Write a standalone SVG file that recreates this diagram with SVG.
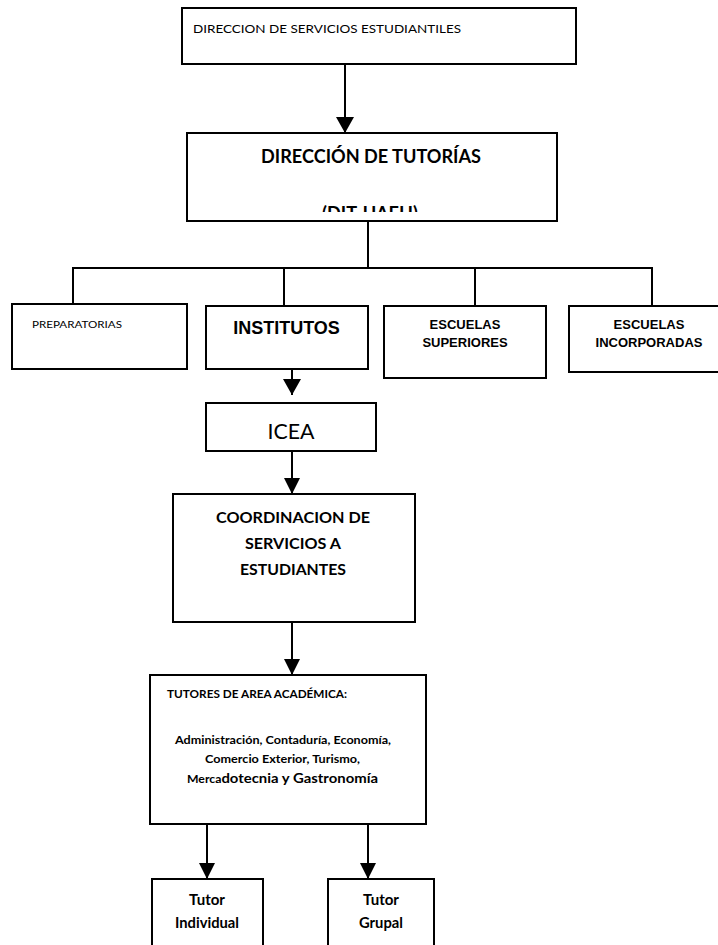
<svg xmlns="http://www.w3.org/2000/svg" width="718" height="945" viewBox="0 0 718 945">
<style>
.box{fill:#fff;stroke:#000;stroke-width:2}
.cn{fill:none;stroke:#000;stroke-width:2}
.c{font-family:Lato,"Open Sans","Liberation Sans",sans-serif;fill:#000}
.a{font-family:"Liberation Sans",Arial,sans-serif;font-weight:bold;fill:#000}
.b{font-weight:bold}
.m{text-anchor:middle}
</style>
<defs>
<marker id="arr" viewBox="0 0 16 16" refX="16" refY="8" markerWidth="16" markerHeight="16" markerUnits="userSpaceOnUse" orient="auto">
<path d="M0,0 L16,8 L0,16 z" fill="#000"/>
</marker>
<marker id="arrL" viewBox="0 0 16 18" refX="16" refY="9" markerWidth="16" markerHeight="18" markerUnits="userSpaceOnUse" orient="auto">
<path d="M0,0 L16,9 L0,18 z" fill="#000"/>
</marker>
<clipPath id="clipDit"><rect x="187" y="195" width="370" height="17"/></clipPath>
</defs>
<rect width="718" height="945" fill="#fff"/>
<g id="connectors">
<line class="cn" x1="345" y1="64" x2="345" y2="133" marker-end="url(#arrL)"/>
<polyline class="cn" points="368,221 368,268"/>
<polyline class="cn" points="73,304 73,268 652,268 652,306"/>
<line class="cn" x1="284" y1="268" x2="284" y2="306"/>
<line class="cn" x1="475" y1="268" x2="475" y2="306"/>
<line class="cn" x1="292" y1="369" x2="292" y2="395" marker-end="url(#arrL)"/>
<line class="cn" x1="292" y1="451" x2="292" y2="494" marker-end="url(#arr)"/>
<line class="cn" x1="292" y1="622" x2="292" y2="675" marker-end="url(#arr)"/>
<line class="cn" x1="207" y1="824" x2="207" y2="879" marker-end="url(#arr)"/>
<line class="cn" x1="368" y1="824" x2="368" y2="879" marker-end="url(#arr)"/>
</g>
<g id="n-servicios">
<rect class="box" x="182" y="8" width="394" height="56"/>
<text class="c" x="193" y="33" font-size="12" textLength="268" lengthAdjust="spacingAndGlyphs">DIRECCION DE SERVICIOS ESTUDIANTILES</text>
</g>
<g id="n-tutorias">
<rect class="box" x="187" y="133" width="370" height="88"/>
<text class="c b m" x="371" y="163" font-size="18" textLength="220" lengthAdjust="spacingAndGlyphs">DIRECCIÓN DE TUTORÍAS</text>
<text class="c b m" x="370" y="220" font-size="18" textLength="96" lengthAdjust="spacingAndGlyphs" clip-path="url(#clipDit)">(DIT-UAEH)</text>
</g>
<g id="n-preparatorias">
<rect class="box" x="12" y="304" width="175" height="65"/>
<text class="c" x="32" y="328" font-size="10" textLength="90" lengthAdjust="spacingAndGlyphs">PREPARATORIAS</text>
</g>
<g id="n-institutos">
<rect class="box" x="206" y="306" width="162" height="63"/>
<text class="a m" x="286.5" y="334" font-size="18">INSTITUTOS</text>
</g>
<g id="n-superiores">
<rect class="box" x="384" y="306" width="162" height="72"/>
<text class="a m" x="465" y="329" font-size="13">ESCUELAS</text>
<text class="a m" x="465" y="347" font-size="13">SUPERIORES</text>
</g>
<g id="n-incorporadas">
<rect class="box" x="569" y="306" width="152" height="66"/>
<text class="a m" x="649" y="329" font-size="13">ESCUELAS</text>
<text class="a m" x="649" y="347" font-size="13">INCORPORADAS</text>
</g>
<g id="n-icea">
<rect class="box" x="206" y="403" width="170" height="48"/>
<text class="c m" x="291" y="439" font-size="22" textLength="47" lengthAdjust="spacingAndGlyphs">ICEA</text>
</g>
<g id="n-coordinacion">
<rect class="box" x="173" y="494" width="242" height="128"/>
<text class="c b m" x="293" y="523" font-size="15" textLength="154" lengthAdjust="spacingAndGlyphs">COORDINACION  DE</text>
<text class="c b m" x="293" y="549" font-size="15" textLength="96" lengthAdjust="spacingAndGlyphs">SERVICIOS A</text>
<text class="c b m" x="293" y="575" font-size="15" textLength="106" lengthAdjust="spacingAndGlyphs">ESTUDIANTES</text>
</g>
<g id="n-tutores">
<rect class="box" x="150" y="675" width="276" height="149"/>
<text class="c b" x="167" y="698" font-size="10.5" textLength="180" lengthAdjust="spacingAndGlyphs">TUTORES  DE AREA ACADÉMICA:</text>
<text class="c b m" x="283" y="744" font-size="11.5" textLength="216" lengthAdjust="spacingAndGlyphs">Administración, Contaduría, Economía,</text>
<text class="c b m" x="282.5" y="763" font-size="11.5" textLength="155" lengthAdjust="spacingAndGlyphs">Comercio Exterior, Turismo,</text>
<text class="c b" x="187" y="783" textLength="191" lengthAdjust="spacingAndGlyphs"><tspan font-size="11.5">Merca</tspan><tspan font-size="14">dotecnia y Gastronomía</tspan></text>
</g>
<g id="n-individual">
<rect class="box" x="152" y="879" width="111" height="80"/>
<text class="c b m" x="207" y="905" font-size="14.5" textLength="36" lengthAdjust="spacingAndGlyphs">Tutor</text>
<text class="c b m" x="207" y="928" font-size="14.5" textLength="64" lengthAdjust="spacingAndGlyphs">Individual</text>
</g>
<g id="n-grupal">
<rect class="box" x="328" y="879" width="106" height="80"/>
<text class="c b m" x="381" y="905" font-size="14.5" textLength="36" lengthAdjust="spacingAndGlyphs">Tutor</text>
<text class="c b m" x="381" y="928" font-size="14.5" textLength="44" lengthAdjust="spacingAndGlyphs">Grupal</text>
</g>
</svg>
